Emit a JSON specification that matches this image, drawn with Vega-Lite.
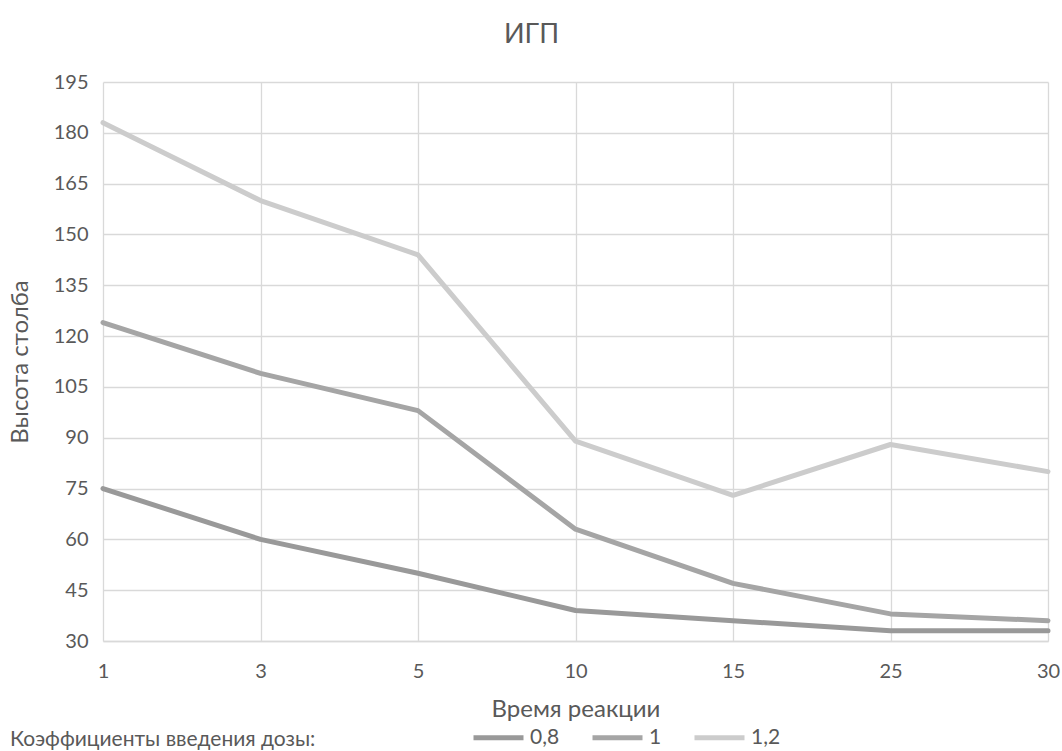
{
  "$schema": "https://vega.github.io/schema/vega-lite/v6.json",
  "width": 945,
  "height": 559,
  "autosize": {"type": "none"},
  "padding": {"left": 103, "top": 82, "right": 14, "bottom": 110},
  "background": "#ffffff",
  "title": {
    "text": "ИГП",
    "font": "Lato",
    "fontSize": 27,
    "fontWeight": "normal",
    "color": "#595959",
    "anchor": "middle",
    "dx": -44,
    "offset": 23
  },
  "config": {
    "view": {"stroke": null},
    "font": "Lato",
    "axis": {
      "labelFont": "Lato",
      "titleFont": "Lato",
      "labelColor": "#595959",
      "titleColor": "#595959",
      "labelFontSize": 20,
      "titleFontSize": 24,
      "titleFontWeight": "normal",
      "gridColor": "#d9d9d9",
      "gridWidth": 1.3,
      "ticks": false,
      "domain": false
    },
    "legend": {
      "labelFont": "Lato",
      "titleFont": "Lato"
    }
  },
  "data": {
    "values": [
      {"t": "1", "k": "0,8", "h": 75},
      {"t": "3", "k": "0,8", "h": 60},
      {"t": "5", "k": "0,8", "h": 50},
      {"t": "10", "k": "0,8", "h": 39},
      {"t": "15", "k": "0,8", "h": 36},
      {"t": "25", "k": "0,8", "h": 33},
      {"t": "30", "k": "0,8", "h": 33},
      {"t": "1", "k": "1", "h": 124},
      {"t": "3", "k": "1", "h": 109},
      {"t": "5", "k": "1", "h": 98},
      {"t": "10", "k": "1", "h": 63},
      {"t": "15", "k": "1", "h": 47},
      {"t": "25", "k": "1", "h": 38},
      {"t": "30", "k": "1", "h": 36},
      {"t": "1", "k": "1,2", "h": 183},
      {"t": "3", "k": "1,2", "h": 160},
      {"t": "5", "k": "1,2", "h": 144},
      {"t": "10", "k": "1,2", "h": 89},
      {"t": "15", "k": "1,2", "h": 73},
      {"t": "25", "k": "1,2", "h": 88},
      {"t": "30", "k": "1,2", "h": 80}
    ]
  },
  "mark": {"type": "line", "strokeWidth": 5, "strokeCap": "round", "strokeJoin": "round"},
  "encoding": {
    "x": {
      "field": "t",
      "type": "ordinal",
      "sort": ["1", "3", "5", "10", "15", "25", "30"],
      "scale": {"type": "point", "padding": 0},
      "axis": {
        "title": "Время реакции",
        "labelAngle": 0,
        "labelPadding": 20,
        "titlePadding": 16,
        "grid": true,
        "domain": true,
        "domainColor": "#d9d9d9",
        "domainWidth": 1.3
      }
    },
    "y": {
      "field": "h",
      "type": "quantitative",
      "scale": {"domain": [30, 195], "nice": false, "zero": false},
      "axis": {
        "title": "Высота столба",
        "values": [30, 45, 60, 75, 90, 105, 120, 135, 150, 165, 180, 195],
        "labelPadding": 15,
        "titlePadding": 21,
        "grid": true
      }
    },
    "color": {
      "field": "k",
      "type": "nominal",
      "scale": {"domain": ["0,8", "1", "1,2"], "range": ["#999999", "#a5a5a5", "#cccccc"]},
      "legend": {
        "title": "Коэффициенты введения дозы:",
        "orient": "none",
        "direction": "horizontal",
        "legendX": -93,
        "legendY": 628,
        "titleOrient": "left",
        "titleFontSize": 21,
        "titleFontWeight": "normal",
        "titleColor": "#595959",
        "titleLimit": 600,
        "titlePadding": 155,
        "titleBaseline": "top",
        "labelFontSize": 21,
        "labelColor": "#595959",
        "labelOffset": 4,
        "symbolType": "stroke",
        "symbolSize": 2500,
        "symbolStrokeWidth": 5,
        "columnPadding": 22
      }
    },
    "order": {"field": "k"}
  }
}
